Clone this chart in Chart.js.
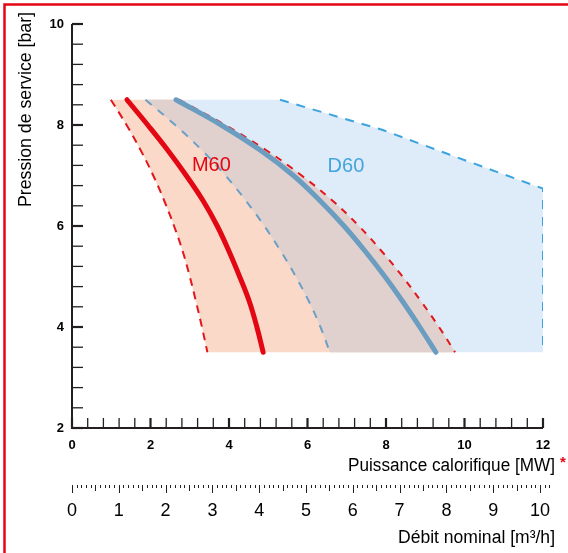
<!DOCTYPE html>
<html><head><meta charset="utf-8">
<script src="https://cdn.jsdelivr.net/npm/chart.js@4/dist/chart.umd.min.js"></script>
<style>html,body{margin:0;padding:0;background:#fff;}canvas{display:block;}</style>
</head><body>
<canvas id="c" width="568" height="553"></canvas>
<script>
// ---- data ----
const pressureBar = [8.5, 8, 7.5, 7, 6.5, 6, 5.5, 5, 4.5, 4, 3.5];
const m60Nominal  = [1.40, 1.93, 2.44, 2.91, 3.34, 3.70, 4.00, 4.27, 4.52, 4.71, 4.87];
const m60Min      = [0.99, 1.39, 1.75, 2.07, 2.35, 2.60, 2.82, 3.00, 3.16, 3.31, 3.45];
const m60Max      = [2.73, 3.90, 4.95, 5.85, 6.64, 7.31, 7.89, 8.42, 8.90, 9.35, 9.76];
const d60Nominal  = [2.65, 3.80, 4.80, 5.64, 6.32, 6.93, 7.47, 7.97, 8.43, 8.86, 9.27];
const d60Min      = [1.87, 2.63, 3.31, 3.91, 4.43, 4.90, 5.32, 5.70, 6.04, 6.33, 6.57];
const d60MaxPower = [5.30, 7.92, 9.63, 12, 12];
const d60MaxBar   = [8.5, 7.90, 7.41, 6.74, 3.5];

const pressureTickLabels = ['2', '4', '6', '8', '10'];
const powerTickLabels = ['0', '2', '4', '6', '8', '10', '12'];
const flowTickLabels = ['0', '1', '2', '3', '4', '5', '6', '7', '8', '9', '10'];
const flowAtPowerMax = 10.064;   // Débit value aligned with 12 MW
const flowTickEnd = 10.2;

const seriesLabels = [
  {text: 'M60', x: 3.55, y: 7.19, color: '#e30613'},
  {text: 'D60', x: 6.98, y: 7.18, color: '#44a5dc'}
];

const FONT = "'Liberation Sans', Arial, Helvetica, sans-serif";

function pts(xs, ps) { return xs.map((v, i) => ({x: v, y: ps[i]})); }
function labelFor(v, list) {
  const r = Math.round(v);
  if (Math.abs(v - r) > 1e-6) return '';
  return list.includes(String(r)) ? String(r) : '';
}

const d60Shape = pts(d60Min, pressureBar).concat(pts(d60MaxPower, d60MaxBar).reverse());
const m60Shape = pts(m60Min, pressureBar).concat(pts(m60Max, pressureBar).reverse());
const overlapShape = pts(d60Min, pressureBar).concat(pts(m60Max, pressureBar).reverse());

function fillSet(data, color, order) {
  return {data, showLine: true, fill: 'shape', backgroundColor: color, borderWidth: 0,
    borderColor: 'rgba(0,0,0,0)', pointRadius: 0, tension: 0, order};
}
function lineSet(data, color, width, dash, order, tension) {
  return {data, showLine: true, fill: false, borderColor: color, borderWidth: width,
    borderDash: dash, pointRadius: 0, tension: tension, order,
    borderCapStyle: dash.length ? 'butt' : 'round'};
}

const decor = {
  id: 'decor',
  beforeDraw(chart) {
    const ctx = chart.ctx;
    ctx.save();
    ctx.fillStyle = '#fff';
    ctx.fillRect(0, 0, chart.width, chart.height);
    ctx.strokeStyle = '#e30613';
    ctx.lineWidth = 2.5;
    ctx.beginPath();
    ctx.moveTo(4.5, chart.height); ctx.lineTo(4.5, 4.5); ctx.lineTo(chart.width, 4.5);
    ctx.stroke();
    ctx.restore();
  },
  afterDraw(chart) {
    const {ctx} = chart;
    const {x, y, x2} = chart.scales;
    const x0 = x.getPixelForValue(0), x12 = x.getPixelForValue(12);
    const yb = y.getPixelForValue(2), yt = y.getPixelForValue(10);
    ctx.save();
    ctx.strokeStyle = '#231f20';
    ctx.lineWidth = 2;
    ctx.beginPath();
    ctx.moveTo(x0, yt); ctx.lineTo(x0, yb); ctx.lineTo(x12, yb);
    ctx.stroke();
    y.ticks.forEach(t => {
      const p = y.getPixelForValue(t.value);
      const major = labelFor(t.value, pressureTickLabels) !== '';
      ctx.lineWidth = major ? 2.2 : 1.3;
      ctx.beginPath(); ctx.moveTo(x0, p); ctx.lineTo(x0 + 11, p); ctx.stroke();
    });
    x.ticks.forEach(t => {
      const p = x.getPixelForValue(t.value);
      const major = labelFor(t.value, powerTickLabels) !== '';
      ctx.lineWidth = major ? 2.2 : 1.3;
      ctx.beginPath(); ctx.moveTo(p, yb); ctx.lineTo(p, yb - 10); ctx.stroke();
    });
    const tTop = x2.top + 9;
    ctx.lineWidth = 1;
    const n = Math.round(flowTickEnd * 10);
    for (let k = 0; k <= n; k++) {
      const p = Math.round(x2.getPixelForValue(k / 10)) + 0.5;
      const len = k % 10 === 0 ? 8 : (k % 5 === 0 ? 6 : 3);
      ctx.beginPath(); ctx.moveTo(p, tTop); ctx.lineTo(p, tTop + len); ctx.stroke();
    }
    ctx.fillStyle = '#000';
    function fitText(text, size, xRight, yMid, width, rotate) {
      ctx.save();
      ctx.font = size + 'px ' + FONT;
      const w = ctx.measureText(text).width;
      const sx = width / w;
      ctx.translate(xRight, yMid);
      if (rotate) ctx.rotate(-Math.PI / 2);
      ctx.scale(sx, 1);
      ctx.textAlign = 'right';
      ctx.textBaseline = 'middle';
      ctx.fillText(text, 0, 0);
      ctx.restore();
    }
    fitText('Pression de service [bar]', 19, 26, 12, 195, true);
    fitText('Puissance calorifique [MW]', 18, 555, 466, 207, false);
    fitText('Débit nominal [m³/h]', 18, 555, 538, 157, false);
    ctx.fillStyle = '#e30613';
    ctx.font = 'bold 15px ' + FONT;
    ctx.textAlign = 'center';
    ctx.textBaseline = 'middle';
    ctx.fillText('*', 563, 463);
    ctx.font = '20px ' + FONT;
    seriesLabels.forEach(l => {
      ctx.fillStyle = l.color;
      ctx.fillText(l.text, x.getPixelForValue(l.x), y.getPixelForValue(l.y));
    });
    ctx.restore();
  }
};

new Chart(document.getElementById('c'), {
  type: 'scatter',
  data: {
    datasets: [
      fillSet(d60Shape, '#deebf9', 30),
      fillSet(m60Shape, '#fad9c9', 29),
      fillSet(overlapShape, '#e1d1ce', 28),
      lineSet(pts(m60Min, pressureBar), '#e3161b', 2, [8, 6], 10, 0.4),
      lineSet(pts(m60Max, pressureBar), '#e3161b', 2, [7, 7], 10, 0.4),
      lineSet(pts(d60Min, pressureBar), '#6a9fc6', 2, [8, 8], 10, 0.4),
      lineSet(pts(d60MaxPower, d60MaxBar), '#3ba4de', 2, [9, 8], 10, 0),
      lineSet(pts(d60Nominal, pressureBar), '#6b9dc1', 5, [], 2, 0.4),
      lineSet(pts(m60Nominal, pressureBar), '#e30613', 5, [], 1, 0.4)
    ]
  },
  options: {
    responsive: false,
    animation: false,
    devicePixelRatio: 1,
    events: [],
    layout: {padding: {left: 0, top: 24, right: 25, bottom: 0}},
    plugins: {legend: {display: false}, tooltip: {enabled: false}},
    scales: {
      x: {
        type: 'linear', position: 'bottom', min: 0, max: 12, weight: 0,
        grid: {display: false, drawTicks: false}, border: {display: false},
        ticks: {stepSize: 0.4, autoSkip: false, maxRotation: 0, padding: 10, color: '#000',
          font: {family: FONT, size: 13, weight: 'bold'},
          callback: v => labelFor(v, powerTickLabels)},
        afterFit: s => { s.height = 48; }
      },
      x2: {
        type: 'linear', position: 'bottom', min: 0, max: flowAtPowerMax, weight: 1,
        grid: {display: false, drawTicks: true, tickLength: 24}, border: {display: false},
        ticks: {stepSize: 1, includeBounds: false, autoSkip: false, maxRotation: 0, padding: 0, color: '#000',
          font: {family: FONT, size: 18},
          callback: v => labelFor(v, flowTickLabels)},
        afterFit: s => { s.height = 77; }
      },
      y: {
        type: 'linear', position: 'left', min: 2, max: 10,
        grid: {display: false, drawTicks: false}, border: {display: false},
        ticks: {stepSize: 0.4, autoSkip: false, padding: 8, color: '#000',
          font: {family: FONT, size: 13, weight: 'bold'},
          callback: v => labelFor(v, pressureTickLabels)},
        afterFit: s => { s.width = 72; }
      }
    }
  },
  plugins: [decor]
});
</script>
</body></html>
